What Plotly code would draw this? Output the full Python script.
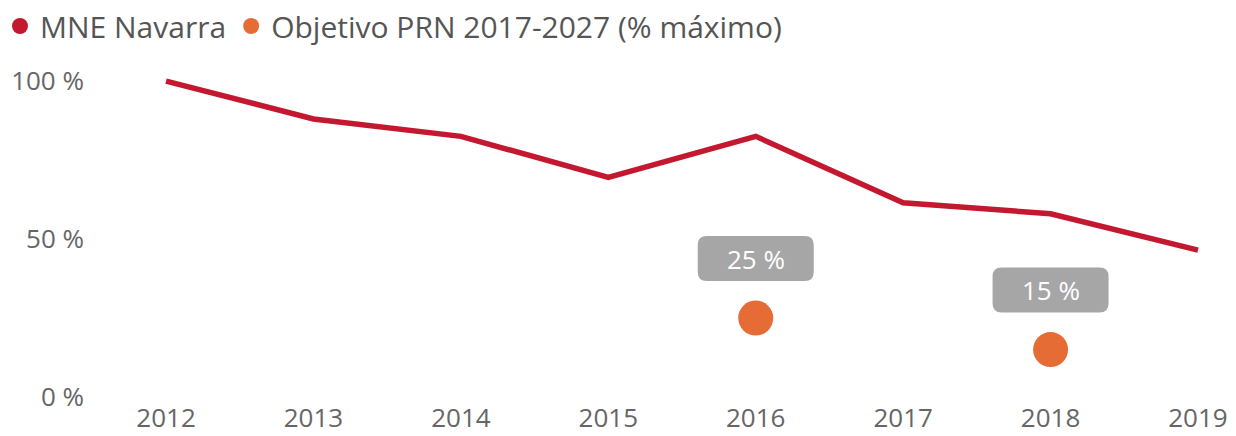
import plotly.graph_objects as go

years = [2012, 2013, 2014, 2015, 2016, 2017, 2018, 2019]
mne_navarra = [100, 88, 82.5, 69.5, 82.5, 61.5, 58, 46.5]
obj_years = [2016, 2018]
obj_values = [25, 15]
obj_labels = ["25 %", "15 %"]

RED = "#C3182F"
ORANGE = "#E56C35"
GRAY = "#A6A6A6"
FONT = "Open Sans"

fig = go.Figure()
fig.add_trace(go.Scatter(x=years, y=mne_navarra, mode="lines",
                         line=dict(color=RED, width=5.5), showlegend=False,
                         hoverinfo="skip"))
fig.add_trace(go.Scatter(x=obj_years, y=obj_values, mode="markers",
                         marker=dict(color=ORANGE, size=35), showlegend=False))
# legend entries (circle symbols)
fig.add_trace(go.Scatter(x=[None], y=[None], mode="markers", name="MNE Navarra",
                         marker=dict(color=RED, size=20)))
fig.add_trace(go.Scatter(x=[None], y=[None], mode="markers",
                         name="Objetivo PRN 2017-2027 (% máximo)",
                         marker=dict(color=ORANGE, size=20)))

# rounded label boxes
w, h, r, gap = 116, 45, 9, 37
for xv, yv, lab in zip(obj_years, obj_values, obj_labels):
    x0, x1 = -w / 2, w / 2
    y0, y1 = gap, gap + h
    path = (f"M {x0+r},{y0} L {x1-r},{y0} Q {x1},{y0} {x1},{y0+r} "
            f"L {x1},{y1-r} Q {x1},{y1} {x1-r},{y1} L {x0+r},{y1} "
            f"Q {x0},{y1} {x0},{y1-r} L {x0},{y0+r} Q {x0},{y0} {x0+r},{y0} Z")
    fig.add_shape(type="path", xref="x", yref="y", xsizemode="pixel",
                  ysizemode="pixel", xanchor=xv, yanchor=yv, path=path,
                  fillcolor=GRAY, line=dict(width=0), layer="above")
    fig.add_annotation(x=xv, y=yv, text=lab, showarrow=False, yshift=gap + h / 2,
                       font=dict(family=FONT, size=26, color="white"))

fig.update_layout(
    width=1236, height=436,
    margin=dict(l=100, r=10, t=70, b=39, autoexpand=False),
    paper_bgcolor="white", plot_bgcolor="white",
    font=dict(family=FONT, color="#666666", size=26),
    showlegend=True,
    legend=dict(orientation="h", xref="container", yref="container",
                x=-0.003, y=1.0, xanchor="left", yanchor="top",
                font=dict(family=FONT, size=30, color="#555555"),
                itemsizing="trace", tracegroupgap=0, itemwidth=30),
    xaxis=dict(range=[2011.552, 2019.19], tickvals=years,
               ticktext=[str(y) for y in years], showgrid=False,
               zeroline=False, showline=False, ticks="", automargin=False,
               tickfont=dict(family=FONT, size=26, color="#666666"),
               ticklabelstandoff=3),
    yaxis=dict(range=[0, 103.5], tickvals=[0, 50, 100],
               ticktext=["0 %", "50 %", "100 %"], showgrid=False,
               zeroline=False, showline=False, ticks="", automargin=False,
               tickfont=dict(family=FONT, size=26, color="#666666"),
               ticklabelstandoff=15),
)

fig.write_html("out.html", config={"displayModeBar": False},
               post_script="document.body.style.margin='0';document.body.style.overflow='hidden';")
